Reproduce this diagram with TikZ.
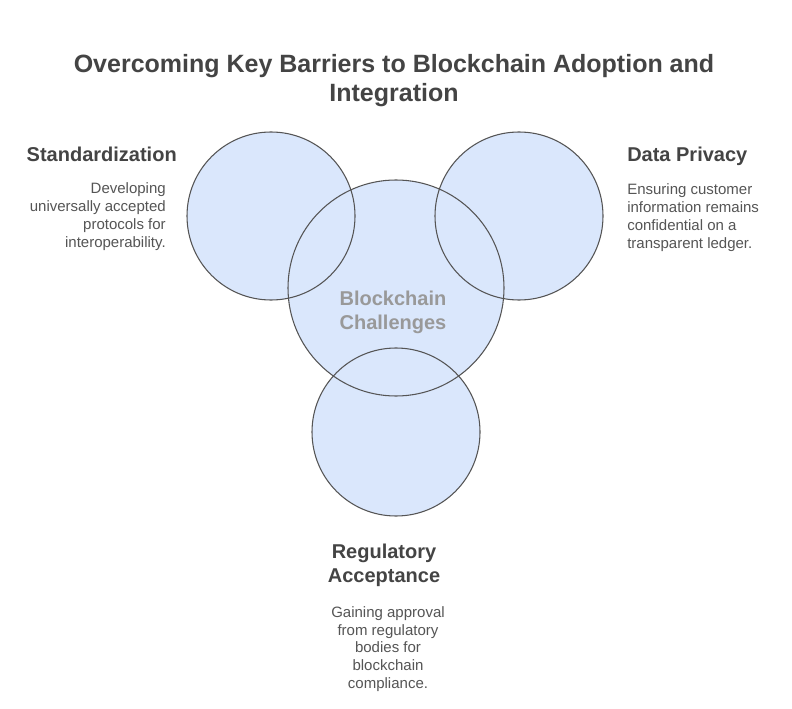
\documentclass[tikz,border=0pt]{standalone}
\usepackage{fontspec}
\setmainfont{Liberation Sans}
\definecolor{circfill}{HTML}{DAE7FC}
\definecolor{circline}{HTML}{555555}
\definecolor{headcol}{HTML}{444444}
\definecolor{desccol}{HTML}{555555}
\definecolor{midcol}{HTML}{999999}
\begin{document}
\begin{tikzpicture}[x=0.75pt,y=-0.75pt,
  bubble/.style={circle,fill=circfill,inner sep=0pt},
  ring/.style={draw=circline,line width=0.8pt},
  titletext/.style={inner sep=0pt,text=headcol,align=center,font={\fontsize{18.75}{21.75}\selectfont\bfseries}},
  headtext/.style={inner sep=0pt,text=headcol,font={\fontsize{15}{18}\selectfont\bfseries}},
  desctext/.style={inner sep=0pt,text=desccol,font={\fontsize{11.25}{13.4}\selectfont}},
  midtext/.style={inner sep=0pt,text=midcol,align=center,font={\fontsize{15}{17.6}\selectfont\bfseries}}]
\path[use as bounding box,fill=white] (0,0) rectangle (792,709);
% circles (fills)
\node[bubble,minimum size=126pt] (std) at (271,216) {};
\node[bubble,minimum size=126pt] (priv) at (519,216) {};
\node[bubble,minimum size=126pt] (reg) at (396,432) {};
\node[bubble,minimum size=162pt] (core) at (396,288) {};
% outlines
\draw[ring] (std.center) circle[radius=84];
\draw[ring] (priv.center) circle[radius=84];
\draw[ring] (reg.center) circle[radius=84];
\draw[ring] (core.center) circle[radius=108];
% texts (anchor base = baseline of the last line)
\node[titletext,anchor=base] (title) at (394,102) {Overcoming Key Barriers to Blockchain Adoption and\\Integration};
\node[midtext,anchor=base] (mid) at (393,329) {Blockchain\\Challenges};
\node[headtext,anchor=base east] (stdh) at (177,162) {Standardization};
\node[desctext,anchor=base east,align=right] (stdd) at (166,247.6) {Developing\\universally accepted\\protocols for\\interoperability.};
\node[headtext,anchor=base west] (privh) at (627,162) {Data Privacy};
\node[desctext,anchor=base west,align=left] (privd) at (627,248.6) {Ensuring customer\\information remains\\confidential on a\\transparent ledger.};
\node[headtext,anchor=base,align=center] (regh) at (384,582) {Regulatory\\Acceptance};
\node[desctext,anchor=base,align=center] (regd) at (388,688.6) {Gaining approval\\from regulatory\\bodies for\\blockchain\\compliance.};
\end{tikzpicture}
\end{document}
